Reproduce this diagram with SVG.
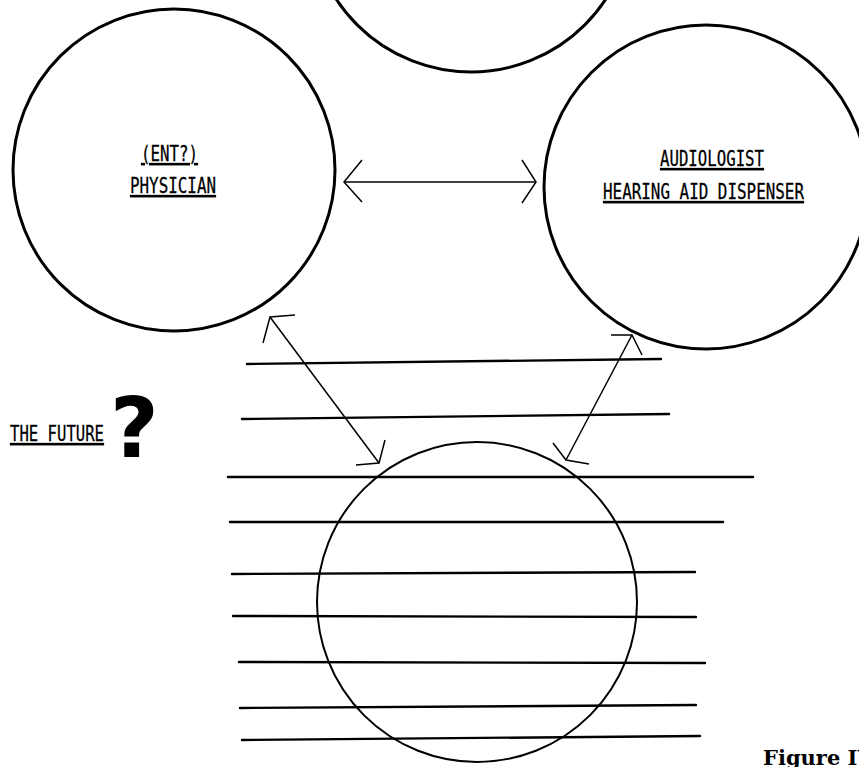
<svg xmlns="http://www.w3.org/2000/svg" width="859" height="767" viewBox="0 0 859 767">
<style>
.c{fill:none;stroke:#000;stroke-width:3}
.cb{fill:none;stroke:#000;stroke-width:2}
.h{stroke:#000;stroke-width:2.4;fill:none;stroke-linecap:round}
.a{stroke:#000;stroke-width:1.5;fill:none}
.t{font-family:"DejaVu Sans Mono","Liberation Mono",monospace;font-size:22px;fill:#000;stroke:#000;stroke-width:0.3;text-decoration:underline}
</style>
<rect width="859" height="767" fill="#fff"/>
<g id="lines">
<line class="h" x1="247" y1="364" x2="661" y2="359"/>
<line class="h" x1="242" y1="419" x2="669" y2="414"/>
<line class="h" x1="228" y1="477" x2="753" y2="477"/>
<line class="h" x1="230" y1="522" x2="723" y2="522"/>
<line class="h" x1="232" y1="574" x2="695" y2="572"/>
<line class="h" x1="233" y1="616" x2="696" y2="617"/>
<line class="h" x1="239" y1="662" x2="705" y2="663"/>
<line class="h" x1="240" y1="708" x2="696" y2="705"/>
<line class="h" x1="242" y1="740" x2="700" y2="736"/>
</g>
<g id="top"><circle class="c" cx="471" cy="-89" r="161"/></g>
<g id="physician">
<circle class="c" cx="174" cy="170" r="161"/>
<text class="t" x="141" y="161" textLength="57" lengthAdjust="spacingAndGlyphs">(ENT?)</text>
<text class="t" x="130" y="193" textLength="86" lengthAdjust="spacingAndGlyphs">PHYSICIAN</text>
</g>
<g id="audiologist">
<circle class="c" cx="706" cy="187" r="162"/>
<text class="t" x="660" y="166" textLength="104" lengthAdjust="spacingAndGlyphs">AUDIOLOGIST</text>
<text class="t" x="603" y="199" textLength="201" lengthAdjust="spacingAndGlyphs">HEARING AID DISPENSER</text>
</g>
<g id="future"><circle class="cb" cx="477" cy="602" r="160"/></g>
<g id="connectors">
<line class="a" x1="344" y1="182" x2="536" y2="182"/>
<polyline class="a" points="362,160 344,182 362,202"/>
<polyline class="a" points="522,160 536,182 522,203"/>
<line class="a" x1="270" y1="317" x2="379" y2="463"/>
<polyline class="a" points="295,315 270,317 263,343"/>
<polyline class="a" points="385,440 379,463 356,465"/>
<line class="a" x1="632" y1="335" x2="566" y2="460"/>
<polyline class="a" points="611,335 632,335 642,355"/>
<polyline class="a" points="553,443 566,460 589,464"/>
</g>
<g id="thefuture">
<text class="t" x="10" y="441" textLength="94" lengthAdjust="spacingAndGlyphs">THE FUTURE</text>
<text x="110" y="457" font-family="DejaVu Sans" font-weight="900" font-size="84">?</text>
</g>
<text x="763" y="765" font-family="DejaVu Serif" font-weight="bold" font-size="21">Figure IV</text>
</svg>
